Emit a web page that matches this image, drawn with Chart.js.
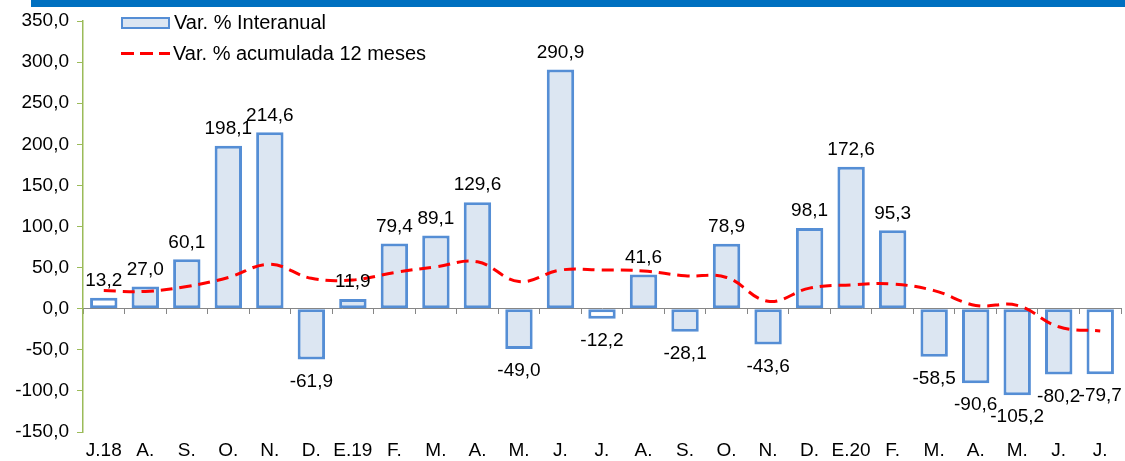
<!DOCTYPE html>
<html>
  <head>
    <meta charset="utf-8" />
    <title>Var. % Interanual</title>
    <style>
        html, body {
            width: 100%;
            height: 100%;
            margin: 0;
            padding: 0;
            overflow: hidden;
            background: #fff;
            font-family: "Liberation Sans", Arial, sans-serif;
        }
        #band {
            position: absolute;
            left: 31px; top: 0; right: 0; height: 7px;
            background: #0070C0;
        }
        #wrap { position: absolute; left: 0; top: 0; width: 1125px; height: 461px; }
        #legend {
            position: absolute; left: 121px; top: 7px;
            font-size: 20px; color: #000;
        }
        .item { display: flex; align-items: center; height: 31px; }
        .box {
            width: 45px; height: 8px; margin-right: 4px;
            background: #DCE6F2; border: 2px solid #558ED5;
        }
        .dash {
            width: 49px; height: 3px; margin-right: 3px;
            background: repeating-linear-gradient(90deg, #FF0000 0 13px, transparent 13px 19px);
        }
    </style>
  </head>
  <body>
    <script src="https://cdn.jsdelivr.net/npm/chart.js@4/dist/chart.umd.min.js"></script>
    <div id="wrap"><canvas id="chart" width="1125" height="461"></canvas></div>
    <div id="band"></div>
    <div id="legend">
      <div class="item"><span class="box"></span>Var. % Interanual</div>
      <div class="item"><span class="dash"></span>Var. % acumulada 12 meses</div>
    </div>

    <script>
        const months = ["J.18", "A.", "S.", "O.", "N.", "D.", "E.19", "F.", "M.", "A.", "M.", "J.",
                        "J.", "A.", "S.", "O.", "N.", "D.", "E.20", "F.", "M.", "A.", "M.", "J.", "J."];
        const interanual = [13.2, 27.0, 60.1, 198.1, 214.6, -61.9, 11.9, 79.4, 89.1, 129.6, -49.0, 290.9,
                            -12.2, 41.6, -28.1, 78.9, -43.6, 98.1, 172.6, 95.3, -58.5, -90.6, -105.2, -80.2, -79.7];
        const acumulada12 = [22, 21, 27, 38, 54, 37, 35, 44, 51, 57, 33, 47,
                             47, 46, 40, 38, 9, 25, 29, 30, 22, 4, 4, -22, -27];
        const yTicks = [-150, -100, -50, 0, 50, 100, 150, 200, 250, 300, 350];

        const fmt = (v) => v.toFixed(1).replace(".", ",");
        // July bars are drawn without fill in the original
        const barFill = months.map((m, i) => (i % 12 === 0) ? "#FFFFFF" : "#DCE6F2");

        const valueLabels = {
          id: "valueLabels",
          afterDatasetsDraw(chart) {
            const ctx = chart.ctx;
            const meta = chart.getDatasetMeta(1);
            ctx.save();
            ctx.font = "19px 'Liberation Sans', Arial, sans-serif";
            ctx.fillStyle = "#000";
            ctx.textAlign = "center";
            ctx.textBaseline = "middle";
            meta.data.forEach((bar, i) => {
              const v = interanual[i];
              const y = v >= 0 ? bar.y - 17 : bar.y + 22;
              ctx.fillText(fmt(v), bar.x, y);
            });
            ctx.restore();
          }
        };

        Chart.defaults.font.family = "'Liberation Sans', Arial, sans-serif";
        Chart.defaults.font.size = 19;
        Chart.defaults.color = "#000";

        const chart = new Chart("chart", {
          type: "bar",
          data: {
            labels: months,
            datasets: [
              {
                type: "line",
                label: "Var. % acumulada 12 meses",
                data: acumulada12,
                borderColor: "#FF0000",
                borderWidth: 3,
                borderDash: [12, 7],
                pointRadius: 0,
                tension: 0.4,
                fill: false,
                order: 0,
                xAxisID: "x"
              },
              {
                label: "Var. % Interanual",
                data: interanual,
                backgroundColor: barFill,
                borderColor: "#558ED5",
                borderWidth: 3,
                borderSkipped: false,
                barPercentage: 0.66,
                categoryPercentage: 1,
                order: 1,
                xAxisID: "x"
              }
            ]
          },
          options: {
            responsive: false,
            animation: false,
            layout: { padding: { top: 21, right: 4, bottom: 0, left: 0 } },
            plugins: {
              legend: { display: false },
              tooltip: { enabled: false }
            },
            scales: {
              x: {
                position: { y: 0 },
                offset: true,
                border: { color: "#868686", width: 1 },
                grid: { drawOnChartArea: false, drawTicks: true, tickLength: 5, color: "#868686", offset: true },
                ticks: { display: false }
              },
              x2: {
                type: "category",
                labels: months,
                position: "bottom",
                offset: true,
                border: { display: false },
                grid: { display: false, drawTicks: false },
                ticks: { padding: 7, maxRotation: 0, autoSkip: false },
                afterFit: (scale) => { scale.height = 29; }
              },
              y: {
                min: -150,
                max: 350,
                border: { color: "#9BBB59", width: 1.5 },
                grid: { drawOnChartArea: false, drawTicks: true, tickLength: 6, color: "#9BBB59" },
                afterBuildTicks: (scale) => { scale.ticks = yTicks.map(v => ({ value: v })); },
                ticks: { padding: 8, callback: (v) => fmt(v) },
                afterFit: (scale) => { scale.width = 83; }
              }
            }
          },
          plugins: [valueLabels]
        });
    </script>
  </body>
</html>
